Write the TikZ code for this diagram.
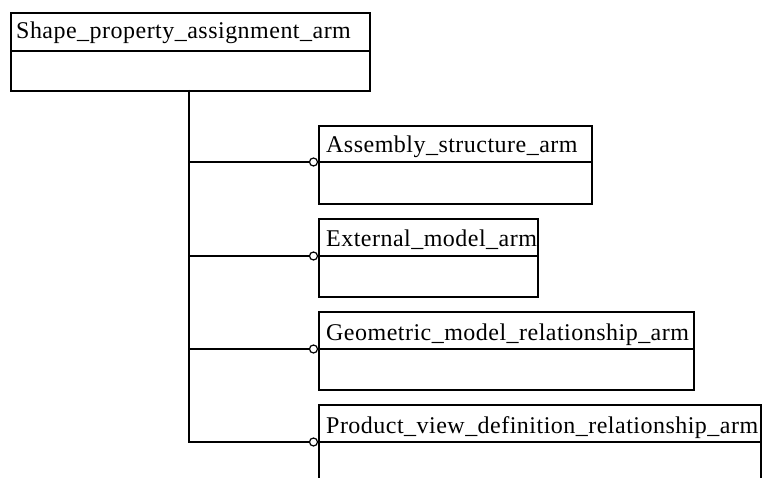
\documentclass[tikz,border=0pt]{standalone}
\usepackage{fontspec}
\newfontfamily\lbfamily[LetterSpace=2]{Liberation Serif}
\newcommand{\lbfont}{\lbfamily\fontsize{24}{28}\selectfont}
\begin{document}
\begin{tikzpicture}[x=1pt,y=1pt,
  box/.style={draw, line width=1.8pt, anchor=north west, inner sep=0pt, minimum height=78pt},
  lbl/.style={anchor=base west, inner sep=0pt, font=\lbfont},
  divider/.style={line width=1.8pt},
  conn/.style={line width=1.4pt},
  ball/.style={circle, draw, line width=1.2pt, fill=white, minimum size=8pt, inner sep=0pt}]
\useasboundingbox (0,0) rectangle (762,-478);
\clip (0,0) rectangle (762,-478);
\fill[white] (0,0) rectangle (762,-478);
% top class
\node[box, minimum width=359pt] (spa) at (10,-12) {};
\draw[divider] (10,-51) -- (369,-51);
\node[lbl] (spat) at (16,-39) {Shape\_property\_assignment\_arm};
% classes
\node[box, minimum width=273pt] (asa) at (318,-125) {};
\draw[divider] (318,-162) -- (591,-162);
\node[lbl] (asat) at (326,-153) {Assembly\_structure\_arm};
\node[box, minimum width=219pt] (ema) at (318,-218) {};
\draw[divider] (318,-256) -- (537,-256);
\node[lbl] (emat) at (326,-247) {External\_model\_arm};
\node[box, minimum width=375pt] (gmr) at (318,-311) {};
\draw[divider] (318,-349) -- (693,-349);
\node[lbl] (gmrt) at (326,-340) {Geometric\_model\_relationship\_arm};
\node[box, minimum width=442pt, minimum height=120pt] (pvd) at (318,-404) {};
\draw[divider] (318,-442) -- (760,-442);
\node[lbl] (pvdt) at (326,-433) {Product\_view\_definition\_relationship\_arm};
% connectors
\coordinate (top) at (189,-90);
\coordinate (j1) at (189,-162);
\coordinate (j2) at (189,-256);
\coordinate (j3) at (189,-349);
\coordinate (j4) at (189,-442);
\node[ball] (b1) at (313.5,-162) {};
\node[ball] (b2) at (313.5,-256) {};
\node[ball] (b3) at (313.5,-349) {};
\node[ball] (b4) at (313.5,-442) {};
\draw[conn] (top) -- (j4) -- (b4.west);
\draw[conn] (j1) -- (b1.west);
\draw[conn] (j2) -- (b2.west);
\draw[conn] (j3) -- (b3.west);
\end{tikzpicture}
\end{document}
